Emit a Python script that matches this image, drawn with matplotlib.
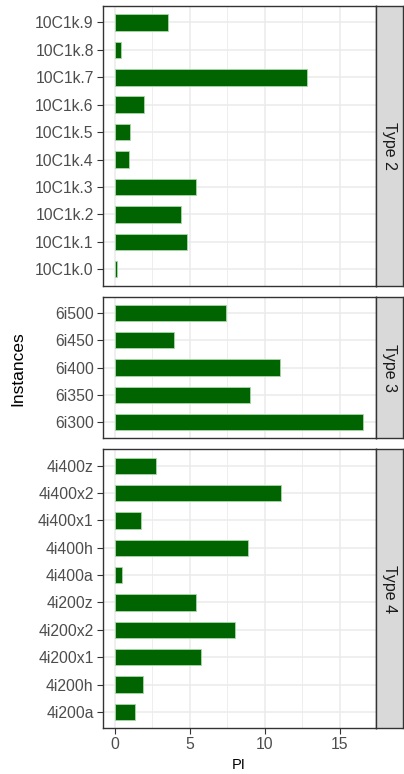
import matplotlib.pyplot as plt
import numpy as np

plt.rcParams['font.family'] = ['Liberation Sans', 'DejaVu Sans']

# dados por painel (de baixo para cima)
type2_labels = ['10C1k.0', '10C1k.1', '10C1k.2', '10C1k.3', '10C1k.4',
                '10C1k.5', '10C1k.6', '10C1k.7', '10C1k.8', '10C1k.9']
type2_pi = [0.15, 4.8, 4.4, 5.44, 0.98, 1.0, 1.98, 12.84, 0.42, 3.57]

type3_labels = ['6i300', '6i350', '6i400', '6i450', '6i500']
type3_pi = [16.58, 9.04, 11.02, 3.95, 7.44]

type4_labels = ['4i200a', '4i200h', '4i200x1', '4i200x2', '4i200z',
                '4i400a', '4i400h', '4i400x1', '4i400x2', '4i400z']
type4_pi = [1.35, 1.89, 5.73, 8.0, 5.4, 0.51, 8.87, 1.75, 11.09, 2.78]

painel_nomes = ['Type 2', 'Type 3', 'Type 4']
paineis = [(type2_labels, type2_pi), (type3_labels, type3_pi), (type4_labels, type4_pi)]

W, H = 404, 774
fig = plt.figure(figsize=(W / 100, H / 100), dpi=100)

# posicoes em pixels (topo, base) de cada painel
limites = [(6, 285.7), (296.7, 438.3), (449.3, 728.3)]
x0, x1 = 102.7, 375.7
strip_r = 403.0

for i, ((labels, vals), nome, (top, bot)) in enumerate(zip(paineis, painel_nomes, limites)):
    ax = fig.add_axes([x0 / W, 1 - bot / H, (x1 - x0) / W, (bot - top) / H])
    pos = np.arange(len(labels))
    ax.set_axisbelow(True)
    ax.barh(pos, vals, height=0.6, color='#006400', edgecolor='#a8d8a8', linewidth=0.6)
    ax.set_xlim(-0.8, 17.4)
    ax.set_ylim(-0.6, len(labels) - 0.4)
    ax.set_yticks(pos)
    ax.set_yticklabels(labels)
    ax.set_xticks([0, 5, 10, 15])
    ax.set_xticks([2.5, 7.5, 12.5], minor=True)
    ax.grid(True, which='major', color='#EBEBEB', linewidth=1.1)
    ax.grid(True, which='minor', axis='x', color='#EBEBEB', linewidth=0.6)
    ax.tick_params(axis='y', which='major', length=4, width=0.8, color='#333333',
                   labelsize=11.3, labelcolor='#4D4D4D', pad=2.5)
    ax.tick_params(axis='x', which='minor', length=0)
    if i < 2:
        ax.tick_params(axis='x', which='major', length=0, labelbottom=False)
    else:
        ax.tick_params(axis='x', which='major', length=4, width=0.8, color='#333333',
                       labelsize=11.3, labelcolor='#4D4D4D', pad=2)
    for s in ax.spines.values():
        s.set_color('#333333')
        s.set_linewidth(1.0)

    # faixa lateral
    sax = fig.add_axes([x1 / W, 1 - bot / H, (strip_r - x1) / W, (bot - top) / H])
    sax.set_facecolor('#D9D9D9')
    sax.set_xticks([])
    sax.set_yticks([])
    for s in sax.spines.values():
        s.set_color('#333333')
        s.set_linewidth(1.0)
    sax.text(0.5, 0.5, nome, rotation=-90, ha='center', va='center',
             fontsize=11.5, color='#1A1A1A', transform=sax.transAxes)

fig.text(17.5 / W, 1 - 369 / H, 'Instances', rotation=90, ha='center', va='center', fontsize=12.5)
fig.text(239 / W, 1 - 765 / H, 'PI', ha='center', va='center', fontsize=10.5)

plt.savefig('out.png', dpi=100)
